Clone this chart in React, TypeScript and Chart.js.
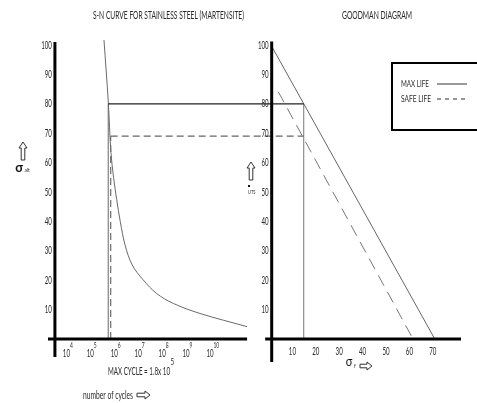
import React, { useEffect, useRef } from 'react';
import { Chart, registerables } from 'chart.js';
Chart.register(...registerables);

// ---------- DATA ----------
// S-N curve: x = log10(number of cycles), y = alternating stress
const SN_LOG_CYCLES = [5.57, 5.75, 5.86, 5.97, 6.1, 6.25, 6.45, 6.75, 7.2, 7.77, 8.47, 9.58, 11.55];
const SN_STRESS = [101.7, 80.6, 63.5, 55, 47.5, 40, 32, 25.2, 20.2, 15.5, 12.1, 8.7, 4.2];
// operating points
const MAX_LIFE_LOG_CYCLES = 5.75;
const MAX_LIFE_STRESS = 80;
const SAFE_LIFE_LOG_CYCLES = 5.85;
const SAFE_LIFE_STRESS = 69;
// Goodman diagram: x = sigma_f (mean), y = sigma_alt
const MAX_LIFE_MEAN = [0, 70];
const MAX_LIFE_ALT = [100, 0];
const SAFE_LIFE_MEAN = [3.1, 60.7];
const SAFE_LIFE_ALT = [84.1, 0];
const OPERATING_MEAN = 14;
// ticks
const Y_TICKS = [10, 20, 30, 40, 50, 60, 70, 80, 90, 100];
const LOG_TICKS = [4, 5, 6, 7, 8, 9, 10];
const MEAN_TICKS = [10, 20, 30, 40, 50, 60, 70];
const LEGEND_LABELS = ['MAX LIFE', 'SAFE LIFE'];
const TITLES = ['S-N CURVE FOR STAINLESS STEEL (MARTENSITE)', 'GOODMAN DIAGRAM'];

// ---------- LAYOUT (scale ranges / axis extents) ----------
const XL_MIN = 1.225, XL_MAX = 21.158;
const XR_MIN = -115.81, XR_MAX = 88.04;
const Y_MIN = -21.76, Y_MAX = 115.31;
const LEFT_AXIS_AT = 3.52;
const LEFT_AXIS_Y = [-6.1, 101];
const LEFT_AXIS_X = [3.23, 11.55];
const RIGHT_AXIS_AT = 0.3;
const RIGHT_AXIS_Y = [-7.8, 101.2];
const RIGHT_AXIS_X = [-2.5, 81.2];

const FONT = 'Lato, "Open Sans", sans-serif';
const TEXT = '#2a2a2a';

function pts(xs: number[], ys: number[]) {
  return xs.map((x, i) => ({ x, y: ys[i] }));
}

function txt(
  ctx: CanvasRenderingContext2D,
  s: string,
  x: number,
  y: number,
  size: number,
  o: { align?: CanvasTextAlign; sx?: number; width?: number; bold?: boolean; color?: string } = {}
) {
  ctx.save();
  ctx.font = `${o.bold ? 'bold ' : ''}${size}px ${FONT}`;
  const w = ctx.measureText(s).width;
  const sx = o.width ? o.width / w : o.sx ?? 0.65;
  ctx.translate(x, y);
  ctx.scale(sx, 1);
  ctx.textAlign = o.align ?? 'left';
  ctx.textBaseline = 'middle';
  ctx.fillStyle = o.color ?? TEXT;
  ctx.fillText(s, 0, 0);
  ctx.restore();
}

function upArrow(ctx: CanvasRenderingContext2D, cx: number, top: number, bottom: number) {
  ctx.save();
  ctx.beginPath();
  ctx.moveTo(cx, top);
  ctx.lineTo(cx + 4, top + 6);
  ctx.lineTo(cx + 1.8, top + 6);
  ctx.lineTo(cx + 1.8, bottom);
  ctx.lineTo(cx - 1.8, bottom);
  ctx.lineTo(cx - 1.8, top + 6);
  ctx.lineTo(cx - 4, top + 6);
  ctx.closePath();
  ctx.strokeStyle = '#333';
  ctx.lineWidth = 1;
  ctx.stroke();
  ctx.restore();
}

function rightArrow(ctx: CanvasRenderingContext2D, left: number, right: number, cy: number) {
  ctx.save();
  ctx.beginPath();
  ctx.moveTo(right, cy);
  ctx.lineTo(right - 5, cy - 4);
  ctx.lineTo(right - 5, cy - 1.8);
  ctx.lineTo(left, cy - 1.8);
  ctx.lineTo(left, cy + 1.8);
  ctx.lineTo(right - 5, cy + 1.8);
  ctx.lineTo(right - 5, cy + 4);
  ctx.closePath();
  ctx.strokeStyle = '#333';
  ctx.lineWidth = 1;
  ctx.stroke();
  ctx.restore();
}

function line(
  ctx: CanvasRenderingContext2D,
  x1: number, y1: number, x2: number, y2: number,
  color: string, width: number, dash: number[] = []
) {
  ctx.save();
  ctx.beginPath();
  ctx.setLineDash(dash);
  ctx.strokeStyle = color;
  ctx.lineWidth = width;
  ctx.moveTo(x1, y1);
  ctx.lineTo(x2, y2);
  ctx.stroke();
  ctx.restore();
}

const decor = {
  id: 'decor',
  beforeDraw(chart: any) {
    const ctx = chart.ctx;
    ctx.save();
    ctx.fillStyle = '#fff';
    ctx.fillRect(0, 0, chart.width, chart.height);
    ctx.restore();
  },
  afterDatasetsDraw(chart: any) {
    const ctx: CanvasRenderingContext2D = chart.ctx;
    const L = (v: number) => chart.scales.xL.getPixelForValue(v);
    const R = (v: number) => chart.scales.xR.getPixelForValue(v);
    const Y = (v: number) => chart.scales.y.getPixelForValue(v);

    // connectors from the S-N diagram to the Goodman diagram
    line(ctx, L(MAX_LIFE_LOG_CYCLES), Y(MAX_LIFE_STRESS), R(OPERATING_MEAN), Y(MAX_LIFE_STRESS), '#222', 1.2);
    line(ctx, L(SAFE_LIFE_LOG_CYCLES), Y(SAFE_LIFE_STRESS), R(OPERATING_MEAN), Y(SAFE_LIFE_STRESS), '#666', 1.4, [7, 4]);

    // axes
    line(ctx, L(LEFT_AXIS_AT), Y(LEFT_AXIS_Y[0]), L(LEFT_AXIS_AT), Y(LEFT_AXIS_Y[1]), '#000', 3);
    line(ctx, L(LEFT_AXIS_X[0]), Y(0), L(LEFT_AXIS_X[1]), Y(0), '#000', 3);
    line(ctx, R(RIGHT_AXIS_AT), Y(RIGHT_AXIS_Y[0]), R(RIGHT_AXIS_AT), Y(RIGHT_AXIS_Y[1]), '#000', 3);
    line(ctx, R(RIGHT_AXIS_X[0]), Y(0), R(RIGHT_AXIS_X[1]), Y(0), '#000', 3);

    // y tick labels
    Y_TICKS.forEach((v) => {
      txt(ctx, String(v), L(LEFT_AXIS_AT) - 3, Y(v), 11, { align: 'right', sx: 0.56 });
      txt(ctx, String(v), R(RIGHT_AXIS_AT) - 3, Y(v), 11, { align: 'right', sx: 0.56 });
    });
    // log-cycle tick labels
    LOG_TICKS.forEach((e) => {
      txt(ctx, '10', L(e), Y(0) + 14, 11, { align: 'center', sx: 0.56 });
      txt(ctx, String(e), L(e) + 3.5, Y(0) + 6, 8, { align: 'left', sx: 0.62 });
    });
    // sigma_f tick labels
    MEAN_TICKS.forEach((v) => {
      txt(ctx, String(v), R(v) - 2, Y(0) + 12, 11, { align: 'center', sx: 0.56 });
    });

    // titles
    txt(ctx, TITLES[0], 93, 15, 11, { width: 151 });
    txt(ctx, TITLES[1], 342, 15, 11, { width: 70 });

    // left axis label
    upArrow(ctx, 23, 142, 160);
    txt(ctx, '\u03C3', 19, 167, 14, { align: 'center', bold: true, sx: 0.9, color: '#111' });
    txt(ctx, 'alt', 24.5, 170, 6, { sx: 0.8 });

    // right axis label
    upArrow(ctx, 251, 162, 180);
    ctx.save();
    ctx.fillStyle = '#111';
    ctx.fillRect(248, 185, 2, 2);
    ctx.restore();
    txt(ctx, 'UTS', 248, 192, 5, { sx: 0.8 });

    // bottom texts
    txt(ctx, 'MAX CYCLE = 1.8x 10', 108, 371, 11, { width: 62 });
    txt(ctx, '5', 170.5, 362, 9, { sx: 0.7 });
    txt(ctx, 'number of cycles', 83, 395, 11, { width: 50 });
    rightArrow(ctx, 137, 150, 395);
    txt(ctx, '\u03C3', 349, 362, 13, { align: 'center', sx: 0.85, color: '#111' });
    txt(ctx, 'f', 354, 366, 6, { sx: 0.8 });
    rightArrow(ctx, 360, 372, 366);

    // legend
    ctx.save();
    ctx.strokeStyle = '#000';
    ctx.lineWidth = 2;
    ctx.strokeRect(392, 63, 90, 67);
    ctx.restore();
    const legendY = [84, 99];
    LEGEND_LABELS.forEach((lab, i) => {
      txt(ctx, lab, 401, legendY[i], 10, { width: i === 0 ? 28 : 30 });
      line(ctx, 437, legendY[i], 467, legendY[i], '#333', 1, i === 0 ? [] : [4, 4]);
    });
  },
};

export default function App() {
  const ref = useRef<HTMLCanvasElement | null>(null);
  useEffect(() => {
    if (!ref.current) return;
    const chart = new Chart(ref.current, {
      type: 'line',
      data: {
        datasets: [
          {
            label: 'S-N',
            xAxisID: 'xL',
            data: pts(SN_LOG_CYCLES, SN_STRESS),
            borderColor: '#6a6a6a',
            borderWidth: 1,
            tension: 0.35,
          },
          {
            label: 'max life cycles',
            xAxisID: 'xL',
            data: pts([MAX_LIFE_LOG_CYCLES, MAX_LIFE_LOG_CYCLES], [0, MAX_LIFE_STRESS]),
            borderColor: '#8a8a8a',
            borderWidth: 1.3,
          },
          {
            label: 'safe life cycles',
            xAxisID: 'xL',
            data: pts([SAFE_LIFE_LOG_CYCLES, SAFE_LIFE_LOG_CYCLES], [0, SAFE_LIFE_STRESS]),
            borderColor: '#777',
            borderWidth: 1.3,
            borderDash: [7, 4],
          },
          {
            label: 'MAX LIFE',
            xAxisID: 'xR',
            data: pts(MAX_LIFE_MEAN, MAX_LIFE_ALT),
            borderColor: '#666',
            borderWidth: 1,
          },
          {
            label: 'SAFE LIFE',
            xAxisID: 'xR',
            data: pts(SAFE_LIFE_MEAN, SAFE_LIFE_ALT),
            borderColor: '#777',
            borderWidth: 1,
            borderDash: [12, 7],
          },
          {
            label: 'operating mean',
            xAxisID: 'xR',
            data: pts([OPERATING_MEAN, OPERATING_MEAN], [0, MAX_LIFE_STRESS]),
            borderColor: '#777',
            borderWidth: 1,
          },
        ],
      },
      options: {
        animation: false,
        responsive: false,
        maintainAspectRatio: false,
        devicePixelRatio: 1,
        layout: { padding: 0 },
        elements: { point: { radius: 0 }, line: { tension: 0 } },
        plugins: { legend: { display: false }, tooltip: { enabled: false }, title: { display: false } },
        scales: {
          xL: { type: 'linear', display: false, min: XL_MIN, max: XL_MAX },
          xR: { type: 'linear', display: false, min: XR_MIN, max: XR_MAX },
          y: { type: 'linear', display: false, min: Y_MIN, max: Y_MAX },
        },
      } as any,
      plugins: [decor],
    });
    return () => chart.destroy();
  }, []);
  return (
    <div style={{ position: 'absolute', left: 0, top: 0, width: 477, height: 403, background: '#fff' }}>
      <canvas ref={ref} width={477} height={403} style={{ display: 'block', width: 477, height: 403 }} />
    </div>
  );
}
